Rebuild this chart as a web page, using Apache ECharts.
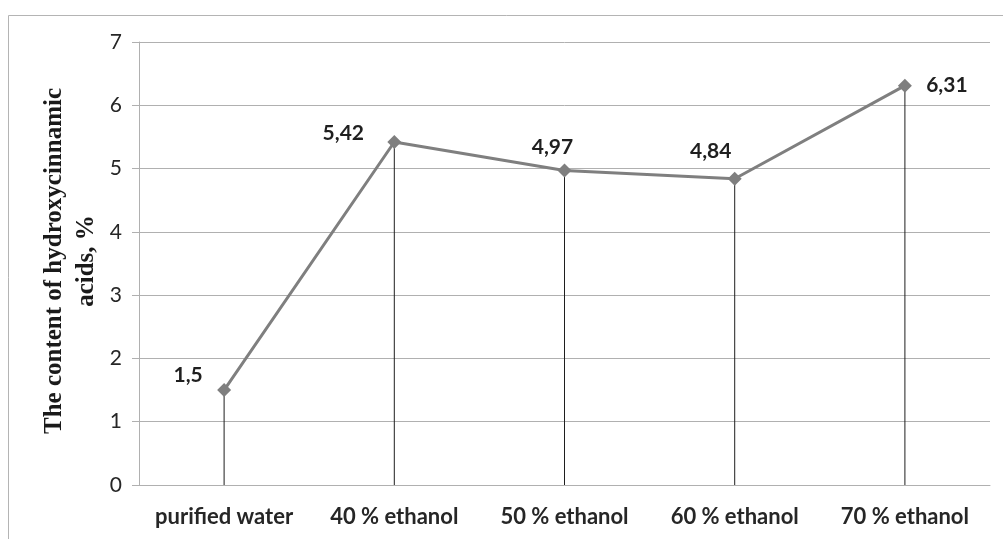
<!DOCTYPE html>
<html>
<head>
<meta charset="utf-8">
<script src="https://cdn.jsdelivr.net/npm/echarts@6/dist/echarts.min.js"></script>
<style>
  html, body { margin: 0; padding: 0; background: #fff; }
  #chart { width: 1003px; height: 539px; }
</style>
</head>
<body>
<div id="chart"></div>
<script>
// Extraction solvents and hydroxycinnamic acid content (%)
const categories = ['purified water', '40 % ethanol', '50 % ethanol', '60 % ethanol', '70 % ethanol'];
const contentValues = [1.5, 5.42, 4.97, 4.84, 6.31];
const yTicks = [0, 1, 2, 3, 4, 5, 6, 7];
const yTitle = 'The content of hydroxycinnamic\nacids, %';

// where each value label sits relative to its marker
const labelOffsets = [[-36, -15], [-51, -9], [-12, -23], [-24, -27], [42, 0]];

const chart = echarts.init(document.getElementById('chart'));

const fmtComma = v => String(v).replace('.', ',');

chart.setOption({
  animation: false,
  backgroundColor: '#ffffff',
  grid: { left: 139, right: 13, top: 42, bottom: 54, containLabel: false },
  graphic: [
    {
      type: 'rect',
      shape: { x: 8.5, y: 15.5, width: 1100, height: 600 },
      style: { fill: 'none', stroke: '#b4b4b4', lineWidth: 1 },
      silent: true
    },
    {
      type: 'text',
      x: 71, y: 261,
      rotation: Math.PI / 2,
      style: {
        text: yTitle,
        font: 'bold 25px "Liberation Serif", "Times New Roman", serif',
        fill: '#1a1a1a',
        textAlign: 'center',
        textVerticalAlign: 'middle',
        lineHeight: 32
      }
    }
  ],
  xAxis: {
    type: 'category',
    data: categories,
    axisLine: { show: true, lineStyle: { color: '#b0b0b0', width: 1 } },
    axisTick: { show: false },
    axisLabel: {
      interval: 0,
      hideOverlap: false,
      margin: 21,
      color: '#262626',
      fontFamily: 'Lato',
      fontWeight: 'bold',
      fontSize: 22
    },
    splitLine: { show: false }
  },
  yAxis: {
    type: 'value',
    min: yTicks[0],
    max: yTicks[yTicks.length - 1],
    interval: 1,
    axisLine: { show: true, lineStyle: { color: '#b0b0b0', width: 1 } },
    axisTick: { show: true, length: 7, lineStyle: { color: '#b0b0b0' } },
    axisLabel: {
      margin: 17,
      color: '#262626',
      fontFamily: 'Lato',
      fontSize: 21
    },
    splitLine: { show: true, lineStyle: { color: '#b0b0b0', width: 1 } }
  },
  series: [
    {
      // drop lines from each point to the category axis
      type: 'bar',
      data: contentValues,
      barWidth: 1,
      itemStyle: { color: '#1e1e1e' },
      silent: true,
      z: 2
    },
    {
      type: 'line',
      data: contentValues.map((v, i) => ({
        value: v,
        label: { offset: labelOffsets[i] }
      })),
      symbol: 'diamond',
      symbolSize: [14, 14],
      showSymbol: true,
      lineStyle: { color: '#7f7f7f', width: 3 },
      itemStyle: { color: '#7f7f7f' },
      label: {
        show: true,
        position: 'inside',
        formatter: p => fmtComma(p.value),
        color: '#1f1f1f',
        fontFamily: 'Lato',
        fontWeight: 'bold',
        fontSize: 21
      },
      z: 3
    }
  ]
});
</script>
</body>
</html>
